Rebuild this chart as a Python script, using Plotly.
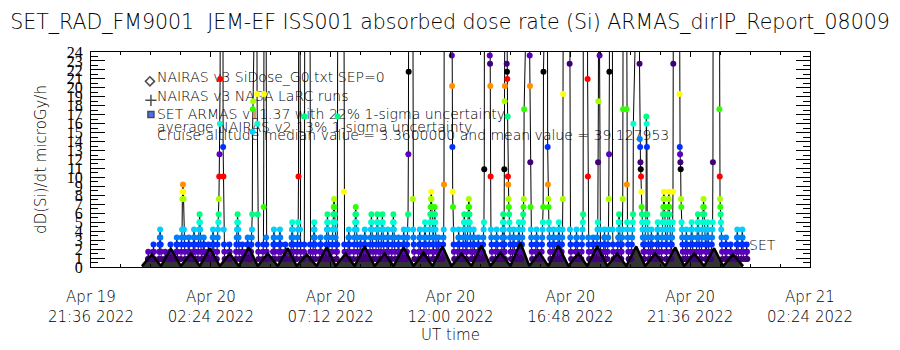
import plotly.graph_objects as go
from datetime import datetime, timedelta

START = datetime(2022, 4, 19, 21, 36)
END = START + timedelta(hours=28.8)

TITLE = "SET_RAD_FM9001  JEM-EF ISS001 absorbed dose rate (Si) ARMAS_dirIP_Report_08009"

# SET ARMAS dose-rate passes: start hour (since START) and dose sequence (microGy/h) in time order
col_hours = [2.28, 2.48, 2.72, 2.96, 3.16, 3.40, 3.60, 3.88, 4.08, 4.28, 4.48, 4.68, 4.84, 5.04, 5.28,
             5.52, 5.80, 6.04, 6.24, 6.40, 6.64, 6.88, 7.00, 7.28, 7.52, 7.76, 8.00, 8.24, 8.36, 8.52,
             8.76, 8.88, 9.16, 9.40, 9.64, 9.84, 10.12, 10.28, 10.52, 10.76, 10.92, 11.16, 11.40, 11.60,
             11.84, 12.04, 12.28, 12.48, 12.64, 12.88, 13.12, 13.32, 13.52, 13.68, 13.88, 14.08, 14.44,
             14.68, 14.88, 15.04, 15.28, 15.48, 15.68, 15.96, 16.20, 16.44, 16.52, 16.64, 16.88, 17.08,
             17.24, 17.56, 17.80, 18.04, 18.28, 18.48, 18.68, 18.84, 19.16, 19.40, 19.64, 19.88, 20.08,
             20.24, 20.36, 20.52, 20.68, 20.88, 21.08, 21.24, 21.44, 21.64, 21.96, 22.16, 22.40, 22.64,
             22.84, 23.04, 23.24, 23.56, 23.80, 24.00, 24.24, 24.44, 24.64, 24.84, 25.16, 25.40, 25.60,
             25.84, 26.04, 26.24]
col_doses = [
    [0.9, 1.7, 0.9],
    [0.9, 1.7, 2.5, 1.7, 0.9],
    [0.9, 1.7, 2.5, 3.3, 4.2, 3.3, 2.5, 1.7, 0.9],
    [0.9, 1.7, 0.9],
    [0.9, 1.7, 2.5, 1.7, 0.9],
    [0.9, 1.7, 2.5, 3.3, 2.5, 1.7, 0.9],
    [0.9, 1.7, 2.5, 3.3, 4.2, 7.6, 8.4, 9.2, 8.4, 7.6, 4.2, 3.3, 2.5, 1.7, 0.9],
    [0.9, 1.7, 2.5, 3.3, 2.5, 1.7, 0.9],
    [0.9, 1.7, 2.5, 3.3, 4.2, 3.3, 2.5, 1.7, 0.9],
    [0.9, 1.7, 2.5, 3.3, 4.2, 5.0, 5.9, 5.0, 4.2, 3.3, 2.5, 1.7, 0.9],
    [0.9, 1.7, 2.5, 3.3, 2.5, 1.7, 0.9],
    [0.9, 1.7, 2.5, 1.7, 0.9],
    [0.9, 1.7, 2.5, 3.3, 4.2, 3.3, 2.5, 1.7, 0.9],
    [0.9, 1.7, 2.5, 3.3, 4.2, 5.0, 5.9, 7.6, 10.1, 12.6, 16.0, 21.0, 45],
    [45, 13.4, 10.1, 4.2, 2.5, 1.7, 0.9],
    [0.9, 1.7, 2.5, 1.7, 0.9],
    [0.9, 1.7, 2.5, 3.3, 4.2, 5.0, 5.9, 5.0, 4.2, 3.3, 2.5, 1.7, 0.9],
    [0.9, 1.7, 2.5, 1.7, 0.9],
    [0.9, 1.7, 2.5, 3.3, 2.5, 1.7, 0.9],
    [0.9, 1.7, 2.5, 3.3, 4.2, 5.9, 15.1, 17.6, 18.5, 45],
    [45, 19.3, 16.0, 5.9, 2.5, 1.7, 0.9],
    [0.9, 1.7, 2.5, 6.7, 19.3, 45],
    [45, 3.3, 2.5, 1.7, 0.9],
    [0.9, 1.7, 2.5, 3.3, 4.2, 3.3, 2.5, 1.7, 0.9],
    [0.9, 1.7, 2.5, 3.3, 4.2, 3.3, 2.5, 1.7, 0.9],
    [0.9, 1.7, 2.5, 1.7, 0.9],
    [0.9, 1.7, 2.5, 3.3, 4.2, 5.0, 4.2, 3.3, 2.5, 1.7, 0.9],
    [0.9, 1.7, 2.5, 3.3, 4.2, 5.0, 10.1, 45],
    [45, 4.2, 2.5, 1.7, 0.9],
    [0.9, 1.7, 2.5, 16.8, 45],
    [45, 2.5, 1.7, 0.9],
    [0.9, 1.7, 2.5, 3.3, 4.2, 5.0, 4.2, 3.3, 2.5, 1.7, 0.9],
    [0.9, 1.7, 2.5, 3.3, 2.5, 1.7, 0.9],
    [0.9, 1.7, 2.5, 3.3, 4.2, 5.0, 5.9, 5.0, 4.2, 3.3, 2.5, 1.7, 0.9],
    [0.9, 1.7, 2.5, 3.3, 4.2, 5.0, 5.9, 6.7, 7.6, 6.7, 5.9, 5.0, 4.2, 3.3, 2.5, 1.7, 0.9],
    [0.9, 1.7, 2.5, 16.8, 45],
    [45, 8.4, 2.5, 1.7, 0.9],
    [0.9, 1.7, 2.5, 3.3, 4.2, 3.3, 2.5, 1.7, 0.9],
    [0.9, 1.7, 2.5, 3.3, 4.2, 5.0, 5.9, 6.7, 5.9, 5.0, 4.2, 3.3, 2.5, 1.7, 0.9],
    [0.9, 1.7, 2.5, 3.3, 2.5, 1.7, 0.9],
    [0.9, 1.7, 2.5, 3.3, 4.2, 3.3, 2.5, 1.7, 0.9],
    [0.9, 1.7, 2.5, 3.3, 4.2, 5.0, 5.9, 5.0, 4.2, 3.3, 2.5, 1.7, 0.9],
    [0.9, 1.7, 2.5, 3.3, 4.2, 5.0, 5.9, 5.0, 4.2, 3.3, 2.5, 1.7, 0.9],
    [0.9, 1.7, 2.5, 3.3, 4.2, 5.0, 5.9, 5.0, 4.2, 3.3, 2.5, 1.7, 0.9],
    [0.9, 1.7, 2.5, 3.3, 4.2, 3.3, 2.5, 1.7, 0.9],
    [0.9, 1.7, 2.5, 3.3, 4.2, 5.0, 5.9, 5.0, 4.2, 3.3, 2.5, 1.7, 0.9],
    [0.9, 1.7, 2.5, 3.3, 2.5, 1.7, 0.9],
    [0.9, 1.7, 2.5, 3.3, 4.2, 3.3, 2.5, 1.7, 0.9],
    [0.9, 1.7, 2.5, 3.3, 4.2, 5.9, 12.6, 21.8, 45],
    [45, 7.6, 4.2, 3.3, 2.5, 1.7, 0.9],
    [0.9, 1.7, 2.5, 3.3, 4.2, 3.3, 2.5, 1.7, 0.9],
    [0.9, 1.7, 2.5, 3.3, 4.2, 5.0, 4.2, 3.3, 2.5, 1.7, 0.9],
    [0.9, 1.7, 2.5, 3.3, 4.2, 5.0, 5.9, 6.7, 7.6, 8.4, 7.6, 6.7, 5.9, 5.0, 4.2, 3.3, 2.5, 1.7, 0.9],
    [0.9, 1.7, 2.5, 3.3, 4.2, 5.0, 5.9, 6.7, 5.9, 5.0, 4.2, 3.3, 2.5, 1.7, 0.9],
    [0.9, 1.7, 2.5, 3.3, 2.5, 1.7, 0.9],
    [0.9, 1.7, 2.5, 3.3, 4.2, 9.2, 45],
    [45, 23.6, 20.2, 13.4, 8.4, 6.7, 4.2, 2.5, 1.7, 0.9],
    [0.9, 1.7, 2.5, 3.3, 4.2, 3.3, 2.5, 1.7, 0.9],
    [0.9, 1.7, 2.5, 3.3, 4.2, 5.0, 5.9, 5.0, 4.2, 3.3, 2.5, 1.7, 0.9],
    [0.9, 1.7, 2.5, 3.3, 4.2, 5.0, 5.9, 6.7, 7.6, 6.7, 5.9, 5.0, 4.2, 3.3, 2.5, 1.7, 0.9],
    [0.9, 1.7, 2.5, 3.3, 4.2, 3.3, 2.5, 1.7, 0.9],
    [0.9, 1.7, 2.5, 3.3, 2.5, 1.7, 0.9],
    [0.9, 1.7, 2.5, 3.3, 4.2, 5.0, 10.9, 45],
    [45, 23.6, 22.7, 20.2, 10.1, 4.2, 3.3, 2.5, 1.7, 0.9],
    [0.9, 1.7, 2.5, 3.3, 4.2, 3.3, 2.5, 1.7, 0.9],
    [0.9, 1.7, 2.5, 3.3, 4.2, 5.0, 5.9, 5.0, 4.2, 3.3, 2.5, 1.7, 0.9],
    [0.9, 1.7, 2.5, 10.9, 18.5, 20.2, 45],
    [45, 22.7, 21.8, 21.0, 16.8, 10.1, 9.2, 7.6, 6.7, 5.9, 5.0, 4.2, 3.3, 2.5, 1.7, 0.9],
    [0.9, 1.7, 2.5, 3.3, 4.2, 3.3, 2.5, 1.7, 0.9],
    [0.9, 1.7, 2.5, 3.3, 4.2, 5.0, 4.2, 3.3, 2.5, 1.7, 0.9],
    [0.9, 1.7, 2.5, 3.3, 4.2, 5.0, 5.9, 6.7, 7.6, 17.6, 45],
    [45, 23.6, 20.2, 11.7, 6.7, 4.2, 3.3, 2.5, 1.7, 0.9],
    [0.9, 1.7, 2.5, 3.3, 4.2, 3.3, 2.5, 1.7, 0.9],
    [0.9, 1.7, 2.5, 3.3, 4.2, 5.0, 6.7, 21.8, 45],
    [45, 13.4, 9.2, 7.6, 6.7, 5.0, 4.2, 3.3, 2.5, 1.7, 0.9],
    [0.9, 1.7, 2.5, 3.3, 4.2, 3.3, 2.5, 1.7, 0.9],
    [0.9, 1.7, 2.5, 3.3, 4.2, 5.0, 4.2, 3.3, 2.5, 1.7, 0.9],
    [0.9, 1.7, 2.5, 3.3, 4.2, 7.6, 19.3, 45],
    [45, 22.7, 4.2, 3.3, 2.5, 1.7, 0.9],
    [0.9, 1.7, 2.5, 3.3, 4.2, 3.3, 2.5, 1.7, 0.9],
    [0.9, 1.7, 2.5, 3.3, 4.2, 5.0, 5.9, 45],
    [45, 21.0, 10.1, 3.3, 2.5, 1.7, 0.9],
    [0.9, 1.7, 2.5, 3.3, 2.5, 1.7, 0.9],
    [0.9, 1.7, 2.5, 3.3, 4.2, 5.0, 11.7, 18.5, 45],
    [45, 23.6, 4.2, 2.5, 1.7, 0.9],
    [0.9, 1.7, 2.5, 3.3, 4.2, 3.3, 2.5, 1.7, 0.9],
    [0.9, 1.7, 2.5, 3.3, 4.2, 7.6, 12.6, 21.8, 45],
    [45, 4.2, 2.5, 1.7, 0.9],
    [0.9, 1.7, 2.5, 3.3, 4.2, 5.0, 5.9, 5.0, 4.2, 3.3, 2.5, 1.7, 0.9],
    [0.9, 1.7, 2.5, 3.3, 4.2, 7.6, 17.6, 45],
    [45, 17.6, 9.2, 5.0, 4.2, 3.3, 2.5, 1.7, 0.9],
    [0.9, 1.7, 2.5, 3.3, 4.2, 5.0, 5.9, 16.0, 45],
    [45, 22.7, 14.3, 13.4, 11.7, 10.9, 10.1, 8.4, 6.7, 5.9, 5.0, 4.2, 3.3, 2.5, 1.7, 0.9],
    [0.9, 1.7, 2.5, 3.3, 4.2, 5.0, 5.9, 16.8, 16.0, 13.4, 5.9, 5.0, 4.2, 3.3, 2.5, 1.7, 0.9],
    [0.9, 1.7, 2.5, 3.3, 4.2, 3.3, 2.5, 1.7, 0.9],
    [0.9, 1.7, 2.5, 3.3, 4.2, 5.0, 4.2, 3.3, 2.5, 1.7, 0.9],
    [0.9, 1.7, 2.5, 3.3, 4.2, 5.0, 5.9, 6.7, 7.6, 8.4, 7.6, 6.7, 5.9, 5.0, 4.2, 3.3, 2.5, 1.7, 0.9],
    [0.9, 1.7, 2.5, 3.3, 4.2, 5.0, 5.9, 6.7, 7.6, 8.4, 6.7, 5.9, 5.0, 4.2, 3.3, 2.5, 1.7, 0.9],
    [0.9, 1.7, 2.5, 3.3, 4.2, 5.0, 8.4, 22.7, 45],
    [45, 19.3, 13.4, 12.6, 11.7, 10.9, 7.6, 6.7, 5.0, 4.2, 3.3, 2.5, 1.7, 0.9],
    [0.9, 1.7, 2.5, 3.3, 4.2, 3.3, 2.5, 1.7, 0.9],
    [0.9, 1.7, 2.5, 3.3, 4.2, 5.0, 4.2, 3.3, 2.5, 1.7, 0.9],
    [0.9, 1.7, 2.5, 3.3, 4.2, 5.0, 5.9, 5.0, 4.2, 3.3, 2.5, 1.7, 0.9],
    [0.9, 1.7, 2.5, 3.3, 4.2, 5.0, 5.9, 6.7, 7.6, 6.7, 5.9, 5.0, 4.2, 3.3, 2.5, 1.7, 0.9],
    [0.9, 1.7, 2.5, 3.3, 4.2, 5.0, 4.2, 3.3, 2.5, 1.7, 0.9],
    [0.9, 1.7, 2.5, 3.3, 4.2, 5.0, 11.7, 45],
    [45, 17.6, 10.1, 7.6, 6.7, 5.9, 5.0, 4.2, 3.3, 2.5, 1.7, 0.9],
    [0.9, 1.7, 2.5, 3.3, 2.5, 1.7, 0.9],
    [0.9, 1.7, 2.5, 1.7, 0.9],
    [0.9, 1.7, 2.5, 3.3, 4.2, 3.3, 2.5, 1.7, 0.9],
    [0.9, 1.7, 2.5, 3.3, 4.2, 3.3, 2.5, 1.7, 0.9],
    [0.9, 1.7, 2.5, 1.7, 0.9],
]

# NAIRAS v3 model (orbit-modulated) vertices: hours since START and dose (microGy/h)
nairas_hours = [2.04, 2.44, 2.80, 3.20, 3.60, 4.00, 4.36, 4.76, 5.16, 5.56, 5.92, 6.32, 6.68, 7.08,
                7.48, 7.88, 8.24, 8.64, 9.04, 9.44, 9.80, 10.20, 10.56, 10.96, 11.36, 11.76, 12.12,
                12.52, 12.92, 13.32, 13.68, 14.08, 14.44, 14.84, 15.24, 15.64, 16.00, 16.40, 16.80,
                17.20, 17.56, 17.96, 18.32, 18.72, 19.12, 19.52, 19.88, 20.28, 20.68, 21.08, 21.44,
                21.84, 22.20, 22.60, 23.00, 23.40, 23.76, 24.16, 24.56, 24.96, 25.32, 25.72, 26.12]
nairas_dose = [0.1, 1.4, 0.1, 2.0, 0.1, 1.5, 0.1, 2.1, 0.1, 1.5, 0.1, 2.2, 0.1, 1.5,
               0.1, 2.1, 0.1, 1.4, 0.1, 2.2, 0.1, 1.5, 0.1, 2.3, 0.1, 1.5, 0.1,
               2.2, 0.1, 1.6, 0.1, 2.3, 0.1, 1.5, 0.1, 2.4, 0.1, 1.6, 0.1,
               2.7, 0.1, 1.6, 0.1, 2.4, 0.1, 1.5, 0.1, 2.3, 0.1, 1.5, 0.1,
               2.3, 0.1, 1.5, 0.1, 2.2, 0.1, 1.5, 0.1, 2.1, 0.1, 1.4, 0.1]

x_tick_hours = [0, 4.8, 9.6, 14.4, 19.2, 24.0, 28.8]
x_tick_text = ["Apr 19<br>21:36 2022", "Apr 20<br>02:24 2022", "Apr 20<br>07:12 2022",
               "Apr 20<br>12:00 2022", "Apr 20<br>16:48 2022", "Apr 20<br>21:36 2022",
               "Apr 21<br>02:24 2022"]
y_tick_vals = list(range(0, 25))

legend_lines = ["NAIRAS v3 SiDose_G0.txt SEP=0",
                "NAIRAS v3 NASA LaRC runs",
                "SET ARMAS v11.37 with 22% 1-sigma uncertainty",
                "average NAIRAS v2 13% 1-sigma uncertainty",
                "Cruise altitude median value = 3.3600000 and mean value = 39.127953"]

# ---- styling helpers ----
PALETTE = ['#000000', '#40007a', '#5a00c0', '#0030ff', '#0080ff', '#00d0ff', '#00ffd0',
           '#00ff80', '#30ff00', '#a8ff00', '#ffff00', '#ff9000', '#ff0000']


def level_color(v):
    return PALETTE[int(round(v / 0.84)) % 13]


def t(h):
    return START + timedelta(hours=h)


# pixel helpers for text placement (plot area: x 91..810, y 52..279)
def px_x(px):
    return t((px - 91) / 25.0)


def px_y(py):
    return (279 - py) / 9.458


set_t, set_v = [], []
for h, seq in zip(col_hours, col_doses):
    for i, v in enumerate(seq):
        set_t.append(t(h + 0.012 * i))
        set_v.append(v)
set_c = [level_color(v) for v in set_v]

FONT = "DejaVu Sans"
W = 200  # thin strokes, like the original vector font
nairas_t = [t(h) for h in nairas_hours]

fig = go.Figure()

# legend text (drawn under the data, as in the original)
fig.add_trace(go.Scatter(
    x=[px_x(157)] * 5 + [px_x(750)],
    y=[px_y(80), px_y(100), px_y(119), px_y(133), px_y(141.5), px_y(257)],
    text=legend_lines + ["SET"],
    mode="text", textposition="middle right",
    textfont=dict(family=FONT, size=14, color="black", weight=W),
    showlegend=False, hoverinfo="skip", cliponaxis=False))

fig.add_trace(go.Scatter(
    x=[px_x(150), px_x(151), px_x(151)],
    y=[px_y(83), px_y(103), px_y(118)],
    mode="markers",
    marker=dict(symbol=["diamond-open", "cross-thin-open", "square"], size=[7, 8, 6],
                color=["black", "black", "#0030ff"], line=dict(width=1.5, color="black")),
    showlegend=False, hoverinfo="skip"))

# NAIRAS fill under the ARMAS dots
fig.add_trace(go.Scatter(
    x=nairas_t, y=nairas_dose, mode="lines",
    line=dict(color="black", width=0.5),
    fill="tozeroy", fillcolor="rgba(0,0,0,0.8)",
    showlegend=False, hoverinfo="skip"))

fig.add_trace(go.Scatter(
    x=set_t, y=set_v, mode="lines+markers",
    line=dict(color="black", width=1),
    marker=dict(size=6, color=set_c, line=dict(width=0)),
    showlegend=False))

# NAIRAS outline on top
fig.add_trace(go.Scatter(
    x=nairas_t, y=nairas_dose, mode="lines",
    line=dict(color="black", width=2.5),
    showlegend=False))

fig.update_layout(
    width=900, height=350,
    margin=dict(l=91, r=90, t=52, b=71),
    paper_bgcolor="white", plot_bgcolor="white",
    font=dict(family=FONT, color="black", weight=W),
    title=dict(text=TITLE, x=0.5, xanchor="center", y=1 - 22 / 350, yanchor="middle",
               yref="container", font=dict(family=FONT, size=20.5, color="black", weight=W)),
    showlegend=False,
)

fig.update_xaxes(
    range=[START, END], type="date",
    tickvals=[t(h) for h in x_tick_hours], ticktext=x_tick_text,
    ticks="inside", ticklen=5, tickcolor="black",
    minor=dict(dtick=1.2 * 3600 * 1000, tick0=START, ticks="inside", ticklen=3, tickcolor="black"),
    showline=True, linecolor="black", linewidth=1, mirror="allticks",
    showgrid=False, zeroline=False,
    tickfont=dict(family=FONT, size=15, color="black", weight=W),
    ticklabelstandoff=16,
    title=dict(text="UT time", font=dict(family=FONT, size=15, color="black", weight=W), standoff=2),
)
fig.update_yaxes(
    range=[0, 24], tickvals=y_tick_vals, ticktext=[str(v) for v in y_tick_vals],
    ticks="inside", ticklen=14, tickcolor="black",
    minor=dict(dtick=0.5, ticks="inside", ticklen=7, tickcolor="black"),
    showline=True, linecolor="black", linewidth=1, mirror="allticks",
    showgrid=False, zeroline=False,
    tickfont=dict(family="Liberation Sans Narrow", size=16, color="black"),
    ticklabelstandoff=4,
    title=dict(text="dD(Si)/dt microGy/h", font=dict(family=FONT, size=15, color="black", weight=W),
               standoff=16),
)

fig.write_html("out.html")
